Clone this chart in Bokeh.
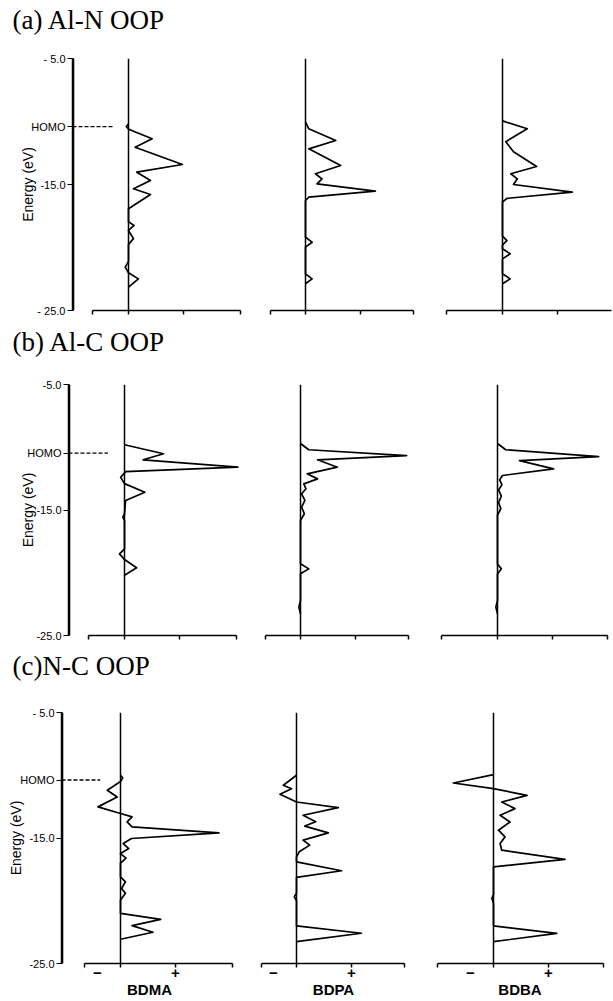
from bokeh.plotting import figure
from bokeh.layouts import row, column
from bokeh.models import Range1d, FixedTicker, LinearAxis, Span, Label
from bokeh.embed import file_html
from bokeh.resources import INLINE

# ---------------- data ----------------
titles = ["(a) Al-N OOP", "(b) Al-C OOP", "(c)N-C OOP"]
compounds = ["BDMA", "BDPA", "BDBA"]
homo_energy = [-10.4, -10.47, -10.38]
y_ticks = [-5.0, -15.0, -25.0]
y_tick_labels = [["- 5.0", "-15.0", "- 25.0"],
                 ["-5.0", "-15.0", "-25.0"],
                 ["- 5.0", "-15.0", "-25.0"]]
x_sign_labels = ["\u2212", "+"]

# (a) Al-N OOP
a1_energy = [-10.2, -10.4, -10.6, -10.75, -11.37, -12.04, -13.41, -14.02, -14.68, -15.34, -15.79, -16.93,
             -17.95, -18.25, -18.65, -19.3, -19.75, -21.1, -21.56, -22.0, -22.49, -23.15]
a1_value = [0.0, -0.04, 0.0, 0.08, 0.43, 0.12, 0.98, 0.15, 0.40, 0.09, 0.40, 0.0,
            0.0, 0.10, 0.0, 0.09, 0.0, 0.0, -0.06, 0.0, 0.18, 0.0]
a2_energy = [-10.05, -10.58, -11.51, -12.17, -13.49, -14.15, -14.55, -14.95, -15.53, -16.0, -16.27,
             -19.18, -19.58, -19.97, -22.09, -22.49, -22.88]
a2_value = [0.0, 0.06, 0.55, 0.06, 0.64, 0.18, 0.30, 0.21, 1.27, 0.06, 0.0,
            0.0, 0.12, 0.0, 0.0, 0.12, 0.0]
a3_energy = [-9.95, -10.58, -11.6, -12.4, -13.57, -14.15, -14.55, -15.0, -15.61, -16.1, -16.4,
             -19.1, -19.45, -19.8, -20.1, -20.5, -20.9, -22.09, -22.49, -22.88]
a3_value = [0.0, 0.45, 0.06, 0.20, 0.62, 0.15, 0.27, 0.20, 1.27, 0.08, 0.0,
            0.0, 0.08, 0.0, 0.0, 0.14, 0.0, 0.0, 0.14, 0.0]

# (b) Al-C OOP
b1_energy = [-9.8, -10.52, -11.0, -11.59, -11.95, -12.4, -12.9, -13.58, -14.24, -15.3, -15.57, -15.85,
             -18.1, -18.5, -18.95, -19.6, -20.2]
b1_value = [0.0, 0.71, 0.34, 2.06, 0.02, -0.07, 0.0, 0.37, 0.02, 0.0, -0.03, 0.0,
            0.0, -0.09, 0.0, 0.22, 0.0]
b2_energy = [-9.7, -10.2, -10.66, -11.0, -11.59, -12.12, -12.52, -12.92, -13.31, -13.71, -14.24, -14.77,
             -15.3, -15.84, -19.29, -19.69, -20.08, -22.21, -22.74, -23.27]
b2_value = [0.0, 0.15, 1.93, 0.31, 0.67, 0.12, 0.31, 0.06, 0.10, 0.02, 0.08, 0.02,
            0.07, 0.0, 0.0, 0.15, 0.0, 0.0, -0.03, 0.0]
b3_energy = [-9.7, -10.2, -10.74, -11.06, -11.72, -12.25, -12.6, -13.0, -13.4, -13.9, -14.4, -14.9,
             -15.4, -19.3, -19.69, -20.1, -22.2, -22.74, -23.27]
b3_value = [0.0, 0.15, 1.84, 0.40, 1.02, 0.09, 0.04, 0.08, 0.02, 0.07, 0.02, 0.06,
            0.0, 0.0, 0.07, 0.0, 0.0, -0.03, 0.0]

# (c) N-C OOP
c1_energy = [-10.0, -10.2, -10.5, -11.2, -11.73, -12.52, -13.05, -13.32, -13.72, -14.12, -14.59, -15.04,
             -15.44, -15.84, -16.24, -16.6, -17.0, -18.09, -18.49, -19.02, -19.41, -19.94,
             -21.0, -21.48, -21.98, -22.51, -23.07]
c1_value = [0.0, 0.04, 0.0, -0.24, -0.06, -0.41, 0.0, 0.21, 0.12, 0.21, 1.79, 0.20,
            0.05, 0.15, 0.0, 0.10, 0.0, 0.0, 0.09, 0.02, 0.09, 0.0,
            0.0, 0.73, 0.21, 0.59, 0.0]
c2_energy = [-10.0, -10.8, -11.07, -11.52, -12.13, -12.58, -13.19, -13.7, -14.05, -14.59, -15.17, -15.57,
             -16.1, -16.5, -16.9, -17.61, -18.14, -19.4, -19.68, -20.0, -22.0, -22.59, -23.26]
c2_value = [0.0, -0.24, -0.09, -0.30, 0.0, 0.76, 0.12, 0.35, 0.15, 0.58, 0.12, 0.24,
            0.05, 0.0, 0.0, 0.82, 0.0, 0.0, -0.04, 0.0, 0.0, 1.18, 0.0]
c3_energy = [-9.95, -10.62, -11.07, -11.6, -12.13, -12.66, -13.19, -13.72, -14.38, -14.91, -15.44, -15.97,
             -16.71, -17.3, -19.5, -19.8, -20.2, -22.0, -22.6, -23.26]
c3_value = [0.0, -0.73, 0.0, 0.61, 0.15, 0.39, 0.12, 0.30, 0.09, 0.21, 0.12, 0.15,
            1.30, 0.0, 0.0, -0.03, 0.0, 0.0, 1.15, 0.0]

curves = [[(a1_value, a1_energy), (a2_value, a2_energy), (a3_value, a3_energy)],
          [(b1_value, b1_energy), (b2_value, b2_energy), (b3_value, b3_energy)],
          [(c1_value, c1_energy), (c2_value, c2_energy), (c3_value, c3_energy)]]

# ---------------- layout (page pixels; Bokeh page has no body margin) ----------------
PAGE_W = 613
U = 55.0  # pixels per "+" unit
rows_geom = [
    dict(axis=72, z=(128, 305, 502), title_h=48, title_base=29, top=10, frame_h=252, bottom=12,
         dash_end=-0.28, ylab_standoff=-8),
    dict(axis=68, z=(124, 300, 497), title_h=52, title_base=33, top=10, frame_h=251, bottom=12,
         dash_end=-0.30, ylab_standoff=-12),
    dict(axis=61, z=(120, 296, 493), title_h=53, title_base=35, top=12, frame_h=251, bottom=37,
         dash_end=-0.37, ylab_standoff=-7),
]
axis_bounds = [(-0.65, 2.03), (-0.63, 1.97), (-1.02, 2.0)]
FONT = "Liberation Sans"


def style_blank(p):
    p.outline_line_color = None
    p.xgrid.visible = False
    p.ygrid.visible = False
    p.background_fill_color = "white"
    p.border_fill_color = "white"


def build_title(ri):
    g = rows_geom[ri]
    p = figure(width=PAGE_W, height=g["title_h"], title=None,
               x_range=Range1d(0, PAGE_W), y_range=Range1d(0, g["title_h"]),
               output_backend="svg", toolbar_location=None,
               x_axis_location=None, y_axis_location=None,
               min_border_left=0, min_border_right=0, min_border_top=0, min_border_bottom=0)
    style_blank(p)
    p.add_layout(Label(x=12, y=g["title_base"], text=titles[ri], text_font="Liberation Serif",
                       text_font_size="27px", text_color="black",
                       text_align="left", text_baseline="alphabetic"))
    return p


def build_row(ri):
    g = rows_geom[ri]
    z1, z2, z3 = g["z"]
    frames = [(g["axis"], round(z1 + 2.12 * U)),
              (round(z2 - 0.65 * U), round(z2 + 2.0 * U)),
              (round(z3 - 1.03 * U), min(round(z3 + 2.0 * U), 611))]
    B = [0, (frames[0][1] + frames[1][0]) // 2, (frames[1][1] + frames[2][0]) // 2, PAGE_W]
    height = g["top"] + g["frame_h"] + g["bottom"]
    figs = []
    for k in range(3):
        fl, fr = frames[k]
        z = g["z"][k]
        xs, xe = (fl - z) / U, (fr - z) / U
        p = figure(width=B[k + 1] - B[k], height=height, title=None,
                   x_range=Range1d(xs, xe), y_range=Range1d(-25, -5),
                   output_backend="svg", toolbar_location=None,
                   x_axis_location=None, y_axis_location=None,
                   min_border_left=fl - B[k], min_border_right=B[k + 1] - fr,
                   min_border_top=g["top"], min_border_bottom=g["bottom"])
        style_blank(p)

        # zero line of the panel
        p.add_layout(Span(location=0, dimension="height", line_color="black", line_width=1.5))

        # bottom axis (line + ticks only)
        b0, b1 = axis_bounds[k]
        ax = LinearAxis(ticker=FixedTicker(ticks=[b0, 0.0, 1.0, b1]), bounds=(b0, b1),
                        major_label_text_font_size="1px", major_label_text_color=None,
                        major_label_text_alpha=0, major_label_standoff=0,
                        major_tick_out=4, major_tick_in=0, axis_line_width=1.5,
                        major_tick_line_width=1.5, axis_line_color="black",
                        major_tick_line_color="black")
        p.add_layout(ax, "below")
        if ri == 2:
            ax2 = LinearAxis(ticker=FixedTicker(ticks=[-0.42, 1.0]), bounds=(-0.42, 1.42),
                             major_label_overrides={-0.42: x_sign_labels[0], 1.0: x_sign_labels[1]},
                             axis_line_color=None, major_tick_line_color=None,
                             major_tick_out=0, major_tick_in=0,
                             major_label_standoff=0,
                             major_label_text_font=FONT, major_label_text_font_style="bold",
                             major_label_text_font_size="15px", major_label_text_color="black",
                             axis_label=compounds[k], axis_label_standoff=0,
                             axis_label_text_font=FONT, axis_label_text_font_style="bold",
                             axis_label_text_font_size="15px", axis_label_text_color="black")
            p.add_layout(ax2, "below")

        if k == 0:
            homo = homo_energy[ri]
            ticks = [y_ticks[0], homo, y_ticks[1], y_ticks[2]]
            labels = [y_tick_labels[ri][0], "HOMO", y_tick_labels[ri][1], y_tick_labels[ri][2]]
            yax = LinearAxis(ticker=FixedTicker(ticks=ticks),
                             major_label_overrides=dict(zip(ticks, labels)),
                             axis_label="Energy (eV)", axis_label_standoff=g["ylab_standoff"],
                             axis_label_text_font=FONT, axis_label_text_font_style="normal",
                             axis_label_text_font_size="14px", axis_label_text_color="black",
                             major_label_text_font=FONT, major_label_text_font_size="11px",
                             major_label_text_color="black", major_label_standoff=2,
                             major_tick_out=5, major_tick_in=1, axis_line_width=1.5,
                             axis_line_color="black",
                             major_tick_line_width=1.2, major_tick_line_color="black")
            p.add_layout(yax, "left")
            # energy axis line, reinforced just inside the frame
            ax_x = xs + 1.0 / U
            p.segment(x0=[ax_x], y0=[y_ticks[-1]], x1=[ax_x], y1=[y_ticks[0]],
                      line_color="black", line_width=1.6)
            # HOMO level marker
            p.segment(x0=[xs], y0=[homo], x1=[g["dash_end"]], y1=[homo],
                      line_color="black", line_width=1.3, line_dash="4 2")

        vals, ens = curves[ri][k]
        p.line(x=vals, y=ens, line_color="black", line_width=1.7, line_join="round")
        figs.append(p)
    return row(*figs)


items = []
for i in range(3):
    items.append(build_title(i))
    items.append(build_row(i))
page = column(*items)
open("out.html", "w").write(file_html(page, INLINE))
